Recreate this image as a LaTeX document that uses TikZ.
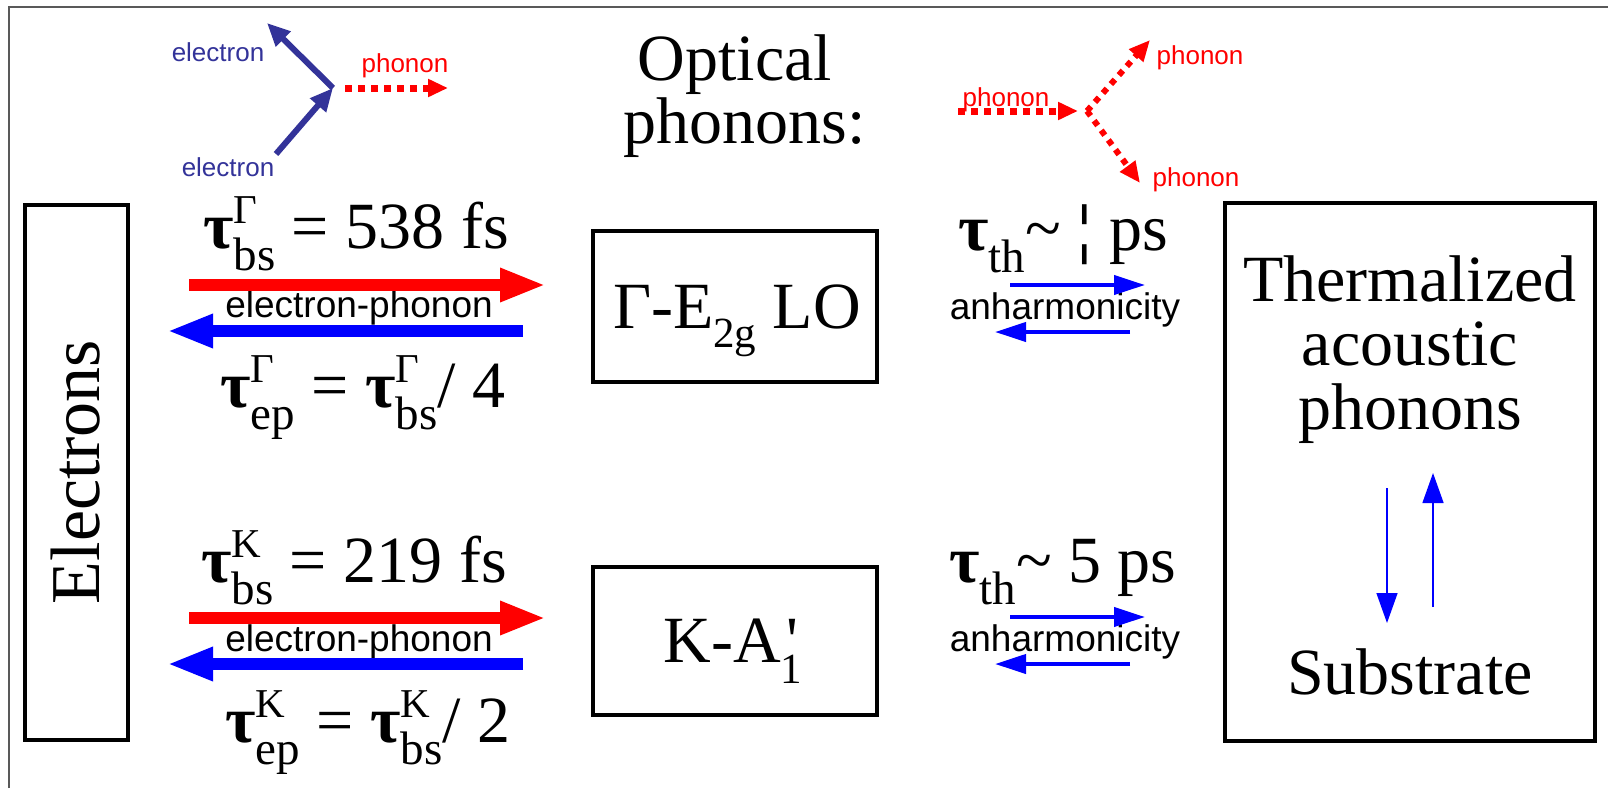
\documentclass[tikz,border=0pt]{standalone}
\usepackage{fontspec}
\setmainfont{Liberation Serif}
\newfontfamily\arialfont{Liberation Sans}
\usetikzlibrary{arrows.meta, positioning}

\definecolor{navyel}{HTML}{333399}

\newcommand{\tauT}[2]{\textbf{τ}\makebox[0pt][l]{\raisebox{25pt}{\fontsize{41}{41}\selectfont #1}}\raisebox{-22pt}{\fontsize{47}{47}\selectfont #2}}
\newcommand{\tauth}{\textbf{τ}\raisebox{-22pt}{\fontsize{47}{47}\selectfont th}\textasciitilde}

\begin{document}
\begin{tikzpicture}[
    x=1pt, y=-1pt,
    big/.style={font=\fontsize{66}{66}\selectfont, inner sep=0pt},
    tag/.style={font=\arialfont\fontsize{26}{26}\selectfont, inner sep=0pt},
    proc/.style={font=\arialfont\fontsize{37}{37}\selectfont, inner sep=0pt},
    box/.style={rectangle, draw, line width=4pt, inner sep=0pt},
    fat/.style={line width=12pt, -{Triangle[length=46pt, width=31pt]}},
    anharm/.style={blue, line width=4pt, -{Triangle[length=31pt, width=19pt]}},
    slim/.style={blue, line width=1.5pt, -{Triangle[length=30pt, width=21pt]}},
    elline/.style={navyel, line width=6pt, -{Triangle[length=23pt, width=20pt]}},
    phline/.style={red, line width=7pt, dash pattern=on 7pt off 6pt, -{Triangle[length=20pt, width=17pt]}},
    phdiag/.style={red, line width=6pt, dash pattern=on 6pt off 6pt, -{Triangle[length=21pt, width=18pt]}},
]
\useasboundingbox (0,0) rectangle (1608,788);

% Frame
\draw[black!65, line width=1.5pt] (9,788) -- (9,7) -- (1608,7);

% Boxes
\node[box, big, font=\fontsize{70}{70}\selectfont, rotate=90, minimum width=535pt, minimum height=103pt] (elec) at (76,472) {Electrons};
\node[box, minimum width=284pt, minimum height=151pt] (gam) at (735,306) {};
\node[box, minimum width=284pt, minimum height=148pt] (kpt) at (735,641) {};
\node[box, minimum width=370pt, minimum height=538pt] (acou) at (1410,472) {};

% Box texts
\node[big, anchor=base] (gamtxt) at (737,328) {Γ-E\raisebox{-19pt}{\fontsize{43}{43}\selectfont 2g} LO};
\node[big, anchor=base] (kpttxt) at (731,662) {K-A\makebox[0pt][l]{\raisebox{-21pt}{\fontsize{43}{43}\selectfont 1}}\kern6pt\textquotesingle};
\node[big, anchor=base] (therm1) at (1410,301) {Thermalized};
\node[big, anchor=base] (therm2) at (1410,365) {acoustic};
\node[big, anchor=base] (therm3) at (1410,429) {phonons};
\node[big, anchor=base] (subs) at (1410,694) {Substrate};
\node[big, anchor=base] (optic1) at (735,80) {Optical};
\node[big, anchor=base] (optic2) at (745,143) {phonons:};

% Time constants
\node[big, anchor=base] (bsG) at (356,248) {\tauT{Γ}{bs} = 538 fs};
\node[big, anchor=base] (epG) at (363,407) {\tauT{Γ}{ep} = \tauT{Γ}{bs}/ 4};
\node[big, anchor=base] (bsK) at (354,582) {\tauT{K}{bs} = 219 fs};
\node[big, anchor=base] (epK) at (368,742) {\tauT{K}{ep} = \tauT{K}{bs}/ 2};
\node[big, anchor=base] (thG) at (1063,250) {\tauth{} \makebox[32pt][l]{\textbf{¦}}ps};
\node[big, anchor=base] (thK) at (1063,582) {\tauth{} 5 ps};

% Arrow labels
\node[proc] (epGlab) at (359,308) {electron-phonon};
\node[proc] (epKlab) at (359,642) {electron-phonon};
\node[proc] (anGlab) at (1065,310) {anharmonicity};
\node[proc] (anKlab) at (1065,642) {anharmonicity};

% Arrow ends
\coordinate (rG0) at (189,285); \coordinate (rG1) at (546,285);
\coordinate (bG0) at (523,331); \coordinate (bG1) at (167,331);
\coordinate (rK0) at (189,618); \coordinate (rK1) at (546,618);
\coordinate (bK0) at (523,664); \coordinate (bK1) at (167,664);
\coordinate (aG0) at (1010,285); \coordinate (aG1) at (1145,285);
\coordinate (cG0) at (1130,332); \coordinate (cG1) at (995,332);
\coordinate (aK0) at (1010,617); \coordinate (aK1) at (1145,617);
\coordinate (cK0) at (1130,664); \coordinate (cK1) at (995,664);
\coordinate (sd0) at (1387,488); \coordinate (sd1) at (1387,623);
\coordinate (su0) at (1433,607); \coordinate (su1) at (1433,473);

% Arrows
\draw[fat, red] (rG0) -- (rG1);
\draw[fat, blue] (bG0) -- (bG1);
\draw[fat, red] (rK0) -- (rK1);
\draw[fat, blue] (bK0) -- (bK1);
\draw[anharm] (aG0) -- (aG1);
\draw[anharm] (cG0) -- (cG1);
\draw[anharm] (aK0) -- (aK1);
\draw[anharm] (cK0) -- (cK1);
\draw[slim] (sd0) -- (sd1);
\draw[slim] (su0) -- (su1);

% Electron-phonon vertex
\coordinate (ev) at (333,88);
\coordinate (ein) at (276,154);
\coordinate (eout) at (267,23);
\coordinate (ps0) at (345,88);
\coordinate (pout) at (448,88);
\draw[elline] (ein) -- (ev);
\draw[elline] (ev) -- (eout);
\draw[phline] (ps0) -- (pout);
\node[tag, text=navyel] (elup) at (218,52) {electron};
\node[tag, text=navyel] (eldn) at (228,167) {electron};
\node[tag, text=red] (phout) at (405,66) {phonon};

% Phonon-phonon vertex
\coordinate (qin) at (958,111);
\coordinate (qtip) at (1078,111);
\coordinate (qv) at (1087,111);
\coordinate (qup) at (1150,40);
\coordinate (qdn) at (1140,183);
\draw[phline] (qin) -- (qtip);
\draw[phdiag] (qv) -- (qup);
\draw[phdiag] (qv) -- (qdn);
\node[tag, text=red] (phin) at (1006,100) {phonon};
\node[tag, text=red] (phup) at (1200,58) {phonon};
\node[tag, text=red] (phdn) at (1196,180) {phonon};

\end{tikzpicture}
\end{document}
